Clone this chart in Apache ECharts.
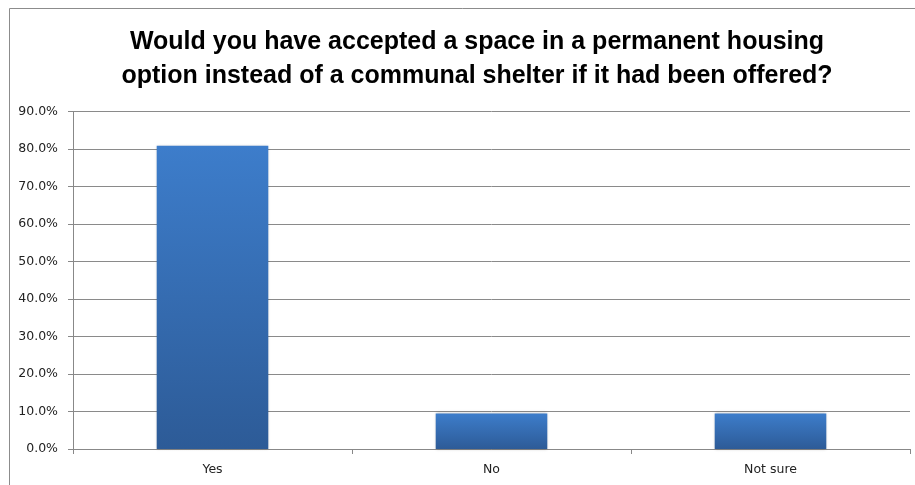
<!DOCTYPE html>
<html>
<head>
<meta charset="utf-8">
<script src="https://cdn.jsdelivr.net/npm/echarts@6/dist/echarts.min.js"></script>
<style>
  html, body { margin: 0; padding: 0; background: #fff; }
  #chart { width: 915px; height: 485px; }
</style>
</head>
<body>
<div id="chart"></div>
<script>
const titleLines = [
    'Would you have accepted a space in a permanent housing',
    'option instead of a communal shelter if it had been offered?'
];
const categories = ['Yes', 'No', 'Not sure'];
const shares = [80.9, 9.5, 9.5];

const chart = echarts.init(document.getElementById('chart'));
chart.setOption({
    animation: false,
    backgroundColor: '#fff',
    title: {
        text: titleLines.join('\n'),
        left: 472,
        top: 20,
        textAlign: 'center',
        textStyle: {
            fontFamily: 'Liberation Sans',
            fontWeight: 'bold',
            fontSize: 25,
            lineHeight: 34,
            color: '#000'
        }
    },
    graphic: [
        {
            type: 'rect',
            shape: { x: 9.5, y: 8.5, width: 920, height: 500 },
            style: { fill: 'none', stroke: '#8c8c8c', lineWidth: 1 },
            silent: true
        }
    ],
    grid: {
        left: 73,
        right: 5,
        top: 111.5,
        bottom: 36
    },
    xAxis: {
        type: 'category',
        data: categories,
        axisLine: { lineStyle: { color: '#888', width: 1 } },
        axisTick: { show: true, alignWithLabel: false, length: 5, lineStyle: { color: '#888' } },
        axisLabel: {
            margin: 14,
            fontFamily: 'DejaVu Sans',
            fontSize: 12.5,
            color: '#222'
        }
    },
    yAxis: {
        type: 'value',
        min: 0,
        max: 90,
        interval: 10,
        axisLine: { show: true, lineStyle: { color: '#888', width: 1 } },
        axisTick: { show: true, length: 5, lineStyle: { color: '#888' } },
        splitLine: { lineStyle: { color: '#8a8a8a', width: 1 } },
        axisLabel: {
            margin: 15,
            fontFamily: 'DejaVu Sans',
            fontSize: 12.5,
            color: '#222',
            formatter: v => v.toFixed(1) + '%'
        }
    },
    series: [
        {
            type: 'bar',
            data: shares,
            barWidth: '40%',
            itemStyle: {
                color: new echarts.graphic.LinearGradient(0, 0, 0, 1, [
                    { offset: 0, color: '#3d7dcb' },
                    { offset: 1, color: '#2d5b97' }
                ]),
                shadowColor: 'rgba(0,0,0,0.25)',
                shadowBlur: 3,
                shadowOffsetX: 0,
                shadowOffsetY: 0
            }
        }
    ]
});
</script>
</body>
</html>
